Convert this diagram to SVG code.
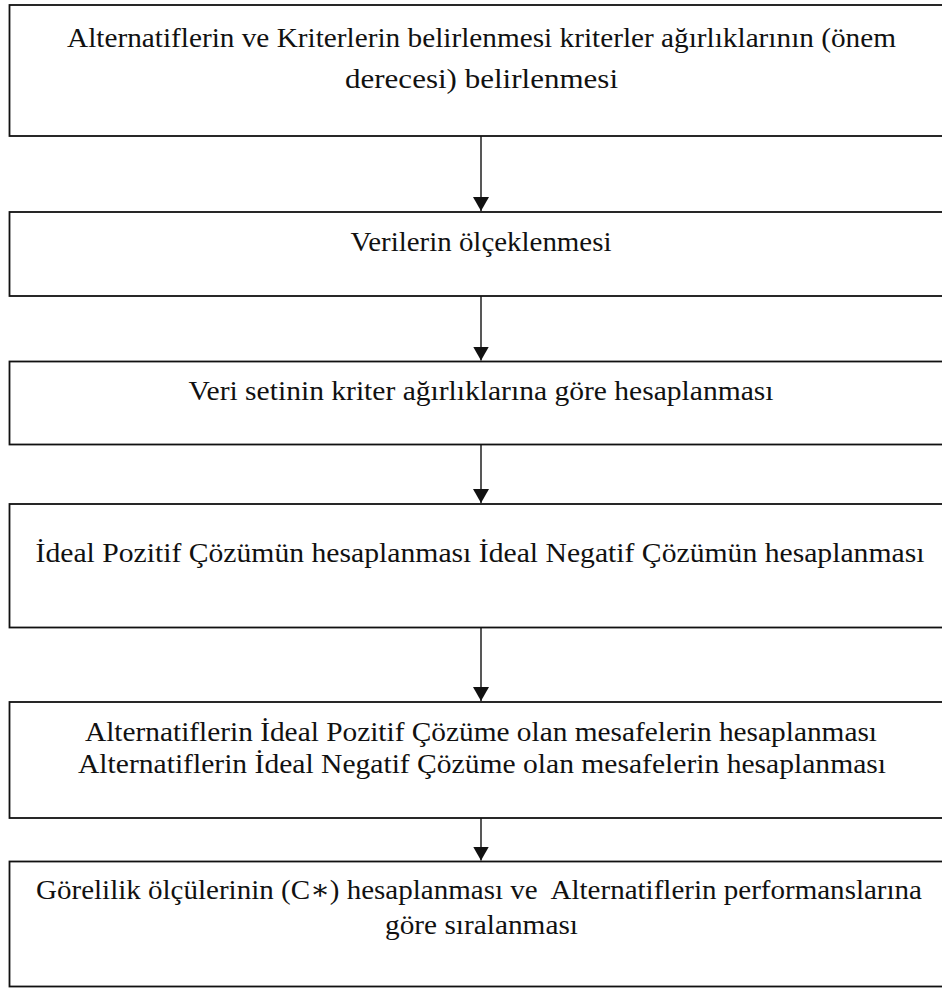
<svg xmlns="http://www.w3.org/2000/svg" width="942" height="989" viewBox="0 0 942 989">
  <style>
    .box { fill: #ffffff; stroke: #111111; stroke-width: 1.8; }
    .lbl { font-family: "Liberation Serif", "DejaVu Serif", serif; font-size: 28px; fill: #111111; text-anchor: middle; }
    .conn { stroke: #111111; stroke-width: 1.4; fill: none; }
  </style>
  <defs>
    <marker id="arrow" viewBox="0 0 14 16" refX="14" refY="8" markerWidth="14" markerHeight="16" markerUnits="userSpaceOnUse" orient="auto">
      <path d="M0,0 L14,8 L0,16 z" fill="#111111"/>
    </marker>
  </defs>
  <rect width="942" height="989" fill="#ffffff"/>

  <g id="node1">
    <rect class="box" x="9.5" y="5" width="944" height="131"/>
    <text class="lbl" x="481.5" y="46.5" textLength="829" lengthAdjust="spacingAndGlyphs">Alternatiflerin ve Kriterlerin belirlenmesi kriterler ağırlıklarının (önem</text>
    <text class="lbl" x="481.5" y="87.5" textLength="273" lengthAdjust="spacingAndGlyphs">derecesi) belirlenmesi</text>
  </g>

  <g id="node2">
    <rect class="box" x="9.5" y="212" width="944" height="84"/>
    <text class="lbl" x="481" y="251" textLength="261" lengthAdjust="spacingAndGlyphs">Verilerin ölçeklenmesi</text>
  </g>

  <g id="node3">
    <rect class="box" x="9.5" y="361.5" width="944" height="83"/>
    <text class="lbl" x="481" y="400" textLength="585" lengthAdjust="spacingAndGlyphs">Veri setinin kriter ağırlıklarına göre hesaplanması</text>
  </g>

  <g id="node4">
    <rect class="box" x="9.5" y="504" width="944" height="123.5"/>
    <text class="lbl" x="480" y="562" textLength="889" lengthAdjust="spacingAndGlyphs">İdeal Pozitif Çözümün hesaplanması İdeal Negatif Çözümün hesaplanması</text>
  </g>

  <g id="node5">
    <rect class="box" x="9.5" y="702" width="944" height="116"/>
    <text class="lbl" x="481" y="740.5" textLength="792" lengthAdjust="spacingAndGlyphs">Alternatiflerin İdeal Pozitif Çözüme olan mesafelerin hesaplanması</text>
    <text class="lbl" x="482" y="773" textLength="808" lengthAdjust="spacingAndGlyphs">Alternatiflerin İdeal Negatif Çözüme olan mesafelerin hesaplanması</text>
  </g>

  <g id="node6">
    <rect class="box" x="9.5" y="861.5" width="944" height="125"/>
    <text class="lbl" x="479" y="898.5" textLength="886" lengthAdjust="spacingAndGlyphs" xml:space="preserve">Görelilik ölçülerinin (C∗) hesaplanması ve  Alternatiflerin performanslarına</text>
    <text class="lbl" x="481.5" y="933.5" textLength="193" lengthAdjust="spacingAndGlyphs">göre sıralanması</text>
  </g>

  <g id="connectors">
    <line class="conn" x1="481" y1="136" x2="481" y2="211" marker-end="url(#arrow)"/>
    <line class="conn" x1="481" y1="296" x2="481" y2="360.5" marker-end="url(#arrow)"/>
    <line class="conn" x1="481" y1="444.5" x2="481" y2="503" marker-end="url(#arrow)"/>
    <line class="conn" x1="481" y1="627.5" x2="481" y2="701" marker-end="url(#arrow)"/>
    <line class="conn" x1="481" y1="818" x2="481" y2="860.5" marker-end="url(#arrow)"/>
  </g>
</svg>
